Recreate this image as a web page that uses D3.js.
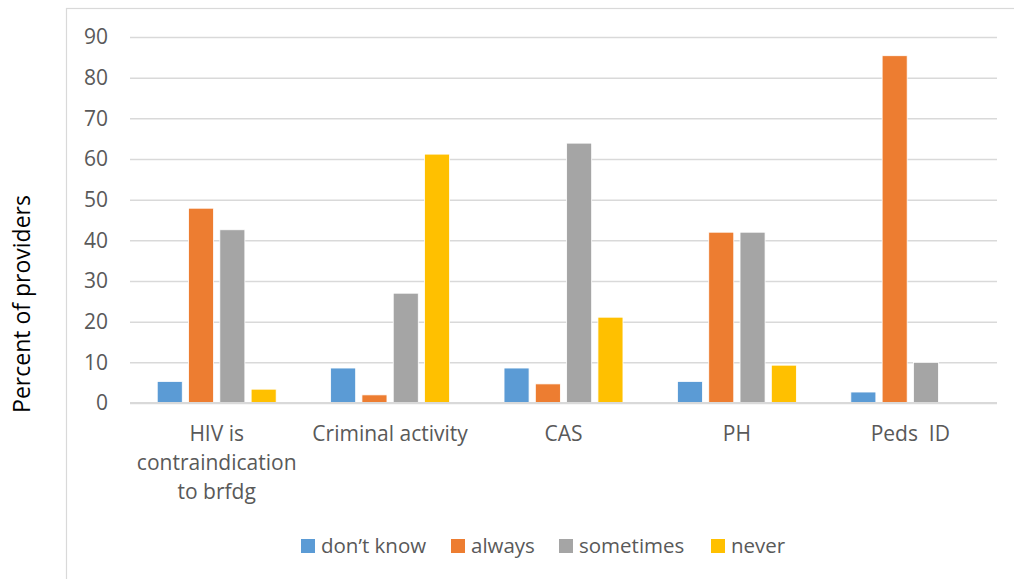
<!DOCTYPE html>
<html>
<head>
<meta charset="utf-8">
<script src="https://cdn.jsdelivr.net/npm/d3@7"></script>
<style>
  html, body { margin: 0; padding: 0; background: #fff; }
  svg { display: block; font-family: "Open Sans", sans-serif; }
</style>
</head>
<body>
<svg id="chart" width="1014" height="579"></svg>
<script>
// Survey responses per topic (percent of providers)
const categories = [
  ["HIV is", "contraindication", "to brfdg"],
  ["Criminal activity"],
  ["CAS"],
  ["PH"],
  ["Peds\u00a0\u00a0ID"]
];
const seriesNames = ["don\u2019t know", "always", "sometimes", "never"];
const dontKnow  = [5.3, 8.6, 8.6, 5.3, 2.7];
const always    = [47.9, 2.0, 4.7, 42.0, 85.4];
const sometimes = [42.6, 27.0, 63.9, 42.0, 10.0];
const never     = [3.4, 61.2, 21.1, 9.3, 0];
const yTicks = [0, 10, 20, 30, 40, 50, 60, 70, 80, 90];
const colors = ["#5b9bd5", "#ed7d31", "#a5a5a5", "#ffc000"];

const seriesValues = [dontKnow, always, sometimes, never];
const catKeys = categories.map((c, i) => i);

const svg = d3.select("#chart");
const margin = { left: 130, right: 17, top: 37, bottom: 176 };
const W = 1014, H = 579;
const plotW = W - margin.left - margin.right;
const plotH = H - margin.top - margin.bottom;

// chart area border (runs off the right and bottom edges)
svg.append("rect")
  .attr("x", 66.5).attr("y", 8.5)
  .attr("width", 1000).attr("height", 620)
  .attr("fill", "none").attr("stroke", "#d9d9d9").attr("stroke-width", 1.2);

const g = svg.append("g").attr("transform", `translate(${margin.left},${margin.top})`);

const x0 = d3.scaleBand().domain(catKeys).range([0, plotW]).paddingInner(0).paddingOuter(0);
const x1 = d3.scaleBand().domain(d3.range(seriesNames.length))
  .range([0, x0.bandwidth()]).paddingInner(0.2).paddingOuter(0.87);
const y = d3.scaleLinear().domain([0, 90]).range([plotH, 0]);

// gridlines and tick labels
const yAxis = d3.axisLeft(y).tickValues(yTicks).tickSize(-plotW).tickPadding(22).tickFormat(d3.format("d"));
const ya = g.append("g").call(yAxis);
ya.select(".domain").remove();
ya.selectAll(".tick line").attr("stroke", "#d9d9d9").attr("stroke-width", 1.5);
ya.selectAll(".tick text")
  .attr("fill", "#595959").attr("font-size", 21)
  .attr("font-family", "'Open Sans', sans-serif");

// bars
const groups = g.selectAll(".grp").data(catKeys).join("g")
  .attr("class", "grp")
  .attr("transform", d => `translate(${x0(d)},0)`);
groups.selectAll("rect")
  .data(ci => seriesValues.map((vals, si) => ({ si, v: vals[ci] })))
  .join("rect")
  .attr("x", d => x1(d.si))
  .attr("width", x1.bandwidth())
  .attr("y", d => y(d.v))
  .attr("height", d => y(0) - y(d.v))
  .attr("fill", d => colors[d.si])
  .attr("stroke", "#fff").attr("stroke-width", d => d.v > 0 ? 0.8 : 0);

// baseline
g.append("line")
  .attr("x1", 0).attr("x2", plotW)
  .attr("y1", y(0)).attr("y2", y(0))
  .attr("stroke", "#d9d9d9").attr("stroke-width", 1.8);

// category labels
const xa = g.append("g").attr("transform", `translate(0,${plotH})`);
categories.forEach((lines, i) => {
  const t = xa.append("text")
    .attr("x", x0(i) + x0.bandwidth() / 2)
    .attr("y", 38)
    .attr("text-anchor", "middle")
    .attr("fill", "#595959").attr("font-size", 21);
  lines.forEach((ln, k) => {
    t.append("tspan").attr("x", x0(i) + x0.bandwidth() / 2)
      .attr("dy", k === 0 ? 0 : 29).text(ln);
  });
});

// y-axis title
svg.append("text")
  .attr("transform", "translate(30,304) rotate(-90)")
  .attr("text-anchor", "middle")
  .attr("fill", "#000").attr("font-size", 23)
  .text("Percent of providers");

// legend
const legendX = [301, 451, 559, 711];
const leg = svg.append("g");
seriesNames.forEach((name, i) => {
  leg.append("rect")
    .attr("x", legendX[i]).attr("y", 539)
    .attr("width", 14).attr("height", 14)
    .attr("fill", colors[i]);
  leg.append("text")
    .attr("x", legendX[i] + 20).attr("y", 553)
    .attr("fill", "#595959").attr("font-size", 20.5)
    .text(name);
});
</script>
</body>
</html>
